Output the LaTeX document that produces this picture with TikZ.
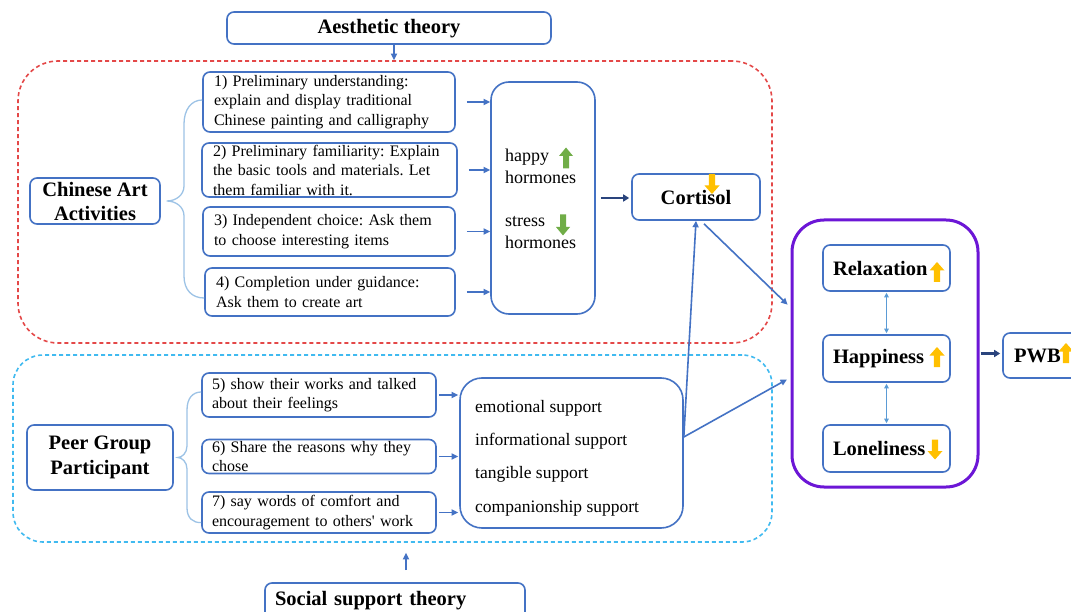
\documentclass[tikz,border=0pt]{standalone}
\usepackage{fontspec}
\setmainfont{Liberation Serif}
\usetikzlibrary{arrows.meta,calc}
\definecolor{boxblue}{RGB}{68,114,196}
\definecolor{bracecol}{RGB}{157,195,230}
\definecolor{redd}{RGB}{228,72,72}
\definecolor{cyand}{RGB}{64,186,240}
\definecolor{purplec}{RGB}{108,22,214}
\definecolor{navy}{RGB}{42,68,125}
\definecolor{dblarr}{RGB}{91,155,213}
\definecolor{greenc}{RGB}{112,173,71}
\definecolor{yellowc}{RGB}{255,192,0}
\tikzset{
  gup/.pic={\fill[greenc] (-3,10.5) -- (-3,-2) -- (-7,-2) -- (0,-10.5) -- (7,-2) -- (3,-2) -- (3,10.5) -- cycle;},
  gdown/.pic={\fill[greenc] (-3,-10.5) -- (-3,2) -- (-7,2) -- (0,10.5) -- (7,2) -- (3,2) -- (3,-10.5) -- cycle;},
  yup/.pic={\fill[yellowc] (-3.2,10) -- (-3.2,-1.5) -- (-7.5,-1.5) -- (0,-10) -- (7.5,-1.5) -- (3.2,-1.5) -- (3.2,10) -- cycle;},
  ydown/.pic={\fill[yellowc] (-3.2,-10) -- (-3.2,1.5) -- (-7.5,1.5) -- (0,10) -- (7.5,1.5) -- (3.2,1.5) -- (3.2,-10) -- cycle;},
}
\frenchspacing
\begin{document}
\frenchspacing
\begin{tikzpicture}[x=1pt,y=-1pt,
  box/.style={draw=boxblue,line width=1.6pt,rounded corners=7pt,inner sep=0pt},
  txt/.style={font=\fontsize{16}{19.5}\selectfont,align=left,inner ysep=0pt},
  bold20/.style={font=\fontsize{20.5}{24.5}\selectfont\bfseries},
  zone/.style={line width=1.6pt,dash pattern=on 4pt off 3pt,inner sep=0pt},
  barr/.style={draw=boxblue,line width=1.6pt,-{Triangle[length=6.5pt,width=6pt]}},
  narr/.style={draw=navy,line width=2.8pt,-{Triangle[length=6pt,width=7pt]}},
  darr/.style={draw=dblarr,line width=1.3pt,{Triangle[length=4.5pt,width=4.5pt]}-{Triangle[length=4.5pt,width=4.5pt]}},
  brace/.style={draw=bracecol,line width=1.3pt},
]
\clip (0,0) rectangle (1071,612);
\fill[white] (0,0) rectangle (1071,612);

% zones
\node[zone,draw=redd,rounded corners=40pt,minimum width=754pt,minimum height=282pt] (redzone) at (395,202) {};
\node[zone,draw=cyand,rounded corners=30pt,minimum width=759pt,minimum height=187pt] (bluezone) at (392.5,448.5) {};

% theory boxes
\node[box,minimum width=324pt,minimum height=32pt,bold20,text depth=3pt] (aes) at (389,28) {Aesthetic theory};
\node[box,minimum width=260pt,minimum height=36pt,text width=240pt,inner xsep=10pt,align=left,bold20] (soc) at (395,601) {Social support theory};

% Chinese art part
\node[box,minimum width=130pt,minimum height=46pt,align=center,font=\fontsize{20.5}{24}\selectfont\bfseries] (cat) at (95,201) {Chinese Art\\Activities};
\node[box,txt,minimum width=252pt,minimum height=60pt,text width=230pt,inner xsep=11pt] (b1) at (329,102) {1) Preliminary understanding:\\explain and display traditional\\Chinese painting and calligraphy};
\node[box,txt,minimum width=255pt,minimum height=54pt,text width=233pt,inner xsep=11pt] (b2) at (329.5,170) {2) Preliminary familiarity: Explain\\the basic tools and materials. Let\\them familiar with it.};
\node[box,txt,minimum width=252pt,minimum height=49pt,text width=230pt,inner xsep=11pt] (b3) at (329,231.5) {3) Independent choice: Ask them\\to choose interesting items};
\node[box,txt,minimum width=250pt,minimum height=48pt,text width=228pt,inner xsep=11pt] (b4) at (330,292) {4) Completion under guidance:\\Ask them to create art};

\draw[brace] ([yshift=2pt]b1.west) .. controls (191,100) and (184,110) .. (184,124) -- (184,186)
  .. controls (184,195) and (176,201) .. ($(cat.east)+(6,0)$)
  .. controls (176,201) and (184,207) .. (184,216) -- (184,276)
  .. controls (184,290) and (192,298) .. ([yshift=-6pt]b4.west);

\node[box,rounded corners=18pt,minimum width=104pt,minimum height=232pt] (horm) at (543,198) {};
\node[anchor=west,align=left,inner sep=0pt,font=\fontsize{18}{22}\selectfont] (happyt) at (505,166) {happy\\hormones};
\node[anchor=west,align=left,inner sep=0pt,font=\fontsize{18}{22}\selectfont] (stresst) at (505,232.5) {stress\\hormones};
\pic at (566,158) {gup};
\pic at (563,225) {gdown};

\node[box,minimum width=128pt,minimum height=46pt,bold20] (cort) at (696,197) {Cortisol};
\pic at (712,184) {ydown};

% peer group part
\node[box,minimum width=146pt,minimum height=65pt,align=center,font=\fontsize{20.5}{25}\selectfont\bfseries] (peer) at (100,457.5) {Peer Group\\Participant};
\node[box,txt,minimum width=234pt,minimum height=44pt,text width=214pt,inner xsep=10pt,font=\fontsize{16}{19}\selectfont] (b5) at (319,395) {5) show their works and talked\\about their feelings};
\node[box,txt,minimum width=234pt,minimum height=34pt,text width=214pt,inner xsep=10pt,font=\fontsize{16}{19}\selectfont] (b6) at (319,456.5) {6) Share the reasons why they\\chose};
\node[box,txt,minimum width=234pt,minimum height=41pt,text width=214pt,inner xsep=10pt,font=\fontsize{16}{19.5}\selectfont] (b7) at (319,512.5) {7) say words of comfort and\\encouragement to others\textquotesingle{} work};

\draw[brace] ([yshift=3pt]b5.west) .. controls (193,392) and (187,398) .. (187,410) -- (187,446)
  .. controls (187,453) and (182,457.5) .. ($(peer.east)+(4,0)$)
  .. controls (182,457.5) and (187,462) .. (187,469) -- (187,508)
  .. controls (187,518) and (193,523) .. ([yshift=-10pt]b7.west);

\node[box,rounded corners=22pt,minimum width=223pt,minimum height=150pt] (supp) at (571.5,453) {};
\node[anchor=west,align=left,inner sep=0pt,font=\fontsize{17.5}{33.3}\selectfont] (supt) at (475,458) {emotional support\\informational support\\tangible support\\companionship support};

% outcomes
\node[draw=purplec,line width=3pt,rounded corners=32pt,minimum width=186pt,minimum height=267pt,inner sep=0pt] (outc) at (885,353.5) {};
\node[box,minimum width=127pt,minimum height=46pt,text width=107pt,inner xsep=10pt,align=left,bold20] (relax) at (886.5,268) {Relaxation};
\node[box,minimum width=127pt,minimum height=47pt,text width=107pt,inner xsep=10pt,align=left,bold20] (happy) at (886.5,358.5) {Happiness};
\node[box,minimum width=127pt,minimum height=47pt,text width=107pt,inner xsep=9pt,align=left,bold20] (lonely) at (886.5,448.5) {Loneliness};
\pic at (937,272) {yup};
\pic at (937,357) {yup};
\pic at (935,449.5) {ydown};

\node[box,minimum width=90pt,minimum height=45pt,text width=68pt,inner xsep=11pt,align=left,bold20] (pwb) at (1048,355.5) {PWB};
\pic at (1066,353) {yup};

% connectors
\draw[barr] ([xshift=5pt]aes.south) -- ([xshift=5pt]aes.south |- redzone.north);
\draw[barr,shorten >=10pt] ([xshift=11pt,yshift=12pt]soc.north) -- ([xshift=11pt]soc.north |- bluezone.south);
\foreach \b in {b1,b2,b3,b4} \draw[barr] ([xshift=11pt]\b.east) -- (\b.east -| horm.west);
\foreach \b in {b5,b6,b7} \draw[barr] ([xshift=2pt]\b.east) -- ([xshift=-1pt]\b.east -| supp.west);
\draw[narr] ([xshift=5pt]horm.east) -- ([xshift=-2pt]horm.east -| cort.west);
\coordinate (sj) at ([yshift=16pt]supp.east);
\draw[barr] (sj) -- (cort.south);
\draw[barr,shorten >=4pt] ([xshift=8pt,yshift=-3pt]cort.south) -- ([yshift=46pt]outc.west);
\draw[barr,shorten >=4pt] (sj) -- ([yshift=-24pt]outc.west);
\draw[narr,shorten <=1pt,shorten >=2pt] (outc.east) -- (outc.east -| pwb.west);
\draw[darr,shorten <=1pt,shorten >=1pt] (relax.south) -- (happy.north);
\draw[darr,shorten <=1pt,shorten >=1pt] (happy.south) -- (lonely.north);
\end{tikzpicture}
\end{document}
